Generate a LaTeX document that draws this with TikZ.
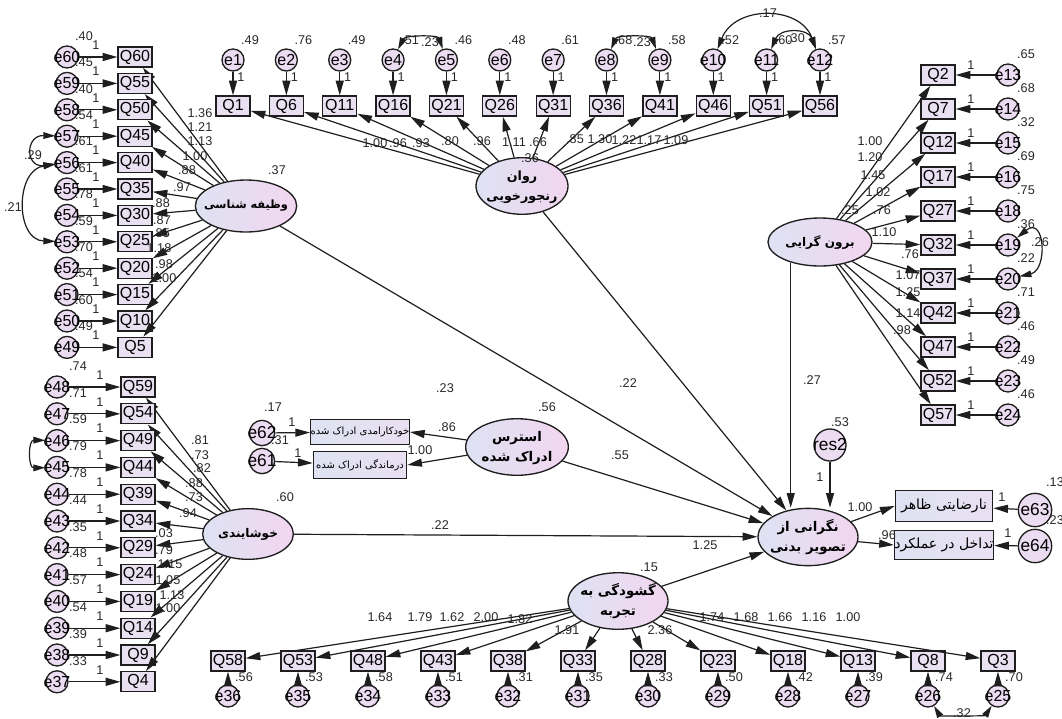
\documentclass[tikz,border=0pt]{standalone}
\usepackage{fontspec}
\setmainfont{Liberation Sans}
\newfontfamily\fa[Script=Arabic,BoldFont={DejaVu Sans Bold}]{DejaVu Sans}
\TeXXeTstate=1
\usetikzlibrary{shapes.geometric,arrows.meta}
\definecolor{boxc}{RGB}{233,224,242}
\definecolor{errc}{RGB}{236,220,242}
\definecolor{ellL}{RGB}{222,226,242}
\definecolor{ellR}{RGB}{242,214,240}
\definecolor{numc}{RGB}{40,40,40}
\definecolor{linec}{RGB}{30,30,30}
\begin{document}
\begin{tikzpicture}[x=0.75pt,y=-0.75pt,
  qb/.style={draw=linec,line width=1pt,fill=boxc,minimum width=25.5pt,minimum height=15pt,inner sep=0pt,font=\fontsize{12}{12}\selectfont},
  er/.style={circle,draw=linec,line width=1pt,fill=errc,minimum size=16.5pt,inner sep=0pt,font=\fontsize{12}{12}\selectfont},
  lat/.style={ellipse,draw=linec,line width=1pt,left color=ellL,right color=ellR,inner sep=0pt,font=\fa\fontsize{9}{15}\selectfont\bfseries},
  vb/.style={draw=linec,line width=1pt,left color=ellL,right color=boxc,inner sep=0pt,font=\fa\fontsize{10.5}{10}\selectfont},
  num/.style={inner sep=0pt,text=numc,font=\fontsize{9.5}{10}\selectfont},
  arr/.style={draw=linec,line width=0.9pt,-{Triangle[length=11pt,width=6pt]}},
  darr/.style={draw=linec,line width=0.9pt,{Triangle[length=9pt,width=5pt]}-{Triangle[length=9pt,width=5pt]}},
]
\useasboundingbox (0,0) rectangle (1062,718);
\fill[white] (0,0) rectangle (1062,718);

% latent variables
\node[lat,minimum width=76pt,minimum height=39pt,font=\fa\fontsize{8.5}{15}\selectfont\bfseries] (C) at (246,206) {\makebox[0pt]{\beginR وظیفه شناسی\endR}};
\node[lat,minimum width=69pt,minimum height=38pt,font=\fa\fontsize{9.5}{15}\selectfont\bfseries] (N) at (522,186) {\makebox[0pt]{\begin{tabular}{@{}c@{}}\beginR روان\endR\\\beginR رنجورخویی\endR\end{tabular}}};
\node[lat,minimum width=78pt,minimum height=36pt] (E) at (820,242) {\makebox[0pt]{\beginR برون گرایی\endR}};
\node[lat,minimum width=68pt,minimum height=38pt] (A) at (248,534) {\makebox[0pt]{\beginR خوشایندی\endR}};
\node[lat,minimum width=77pt,minimum height=39pt,font=\fa\fontsize{10}{15}\selectfont\bfseries] (S) at (517,447) {\makebox[0pt]{\begin{tabular}{@{}c@{}}\beginR استرس\endR\\\beginR ادراک شده\endR\end{tabular}}};
\node[lat,minimum width=75pt,minimum height=43pt,font=\fa\fontsize{10}{15}\selectfont\bfseries] (O) at (808,537) {\makebox[0pt]{\begin{tabular}{@{}c@{}}\beginR نگرانی از\endR\\\beginR تصویر بدنی\endR\end{tabular}}};
\node[lat,minimum width=75pt,minimum height=39pt,font=\fa\fontsize{10}{15}\selectfont\bfseries] (Op) at (618,601) {\makebox[0pt]{\begin{tabular}{@{}c@{}}\beginR گشودگی به\endR\\\beginR تجربه\endR\end{tabular}}};

\node[num] (vC) at (277,170) {.37};
\node[num] (vN) at (530,158) {.36};
\node[num] (vE) at (850,210) {.25};
\node[num] (vA) at (285,497) {.60};
\node[num] (vS) at (547,407) {.56};
\node[num] (vOp) at (649,567) {.15};

% left-top column
\foreach \q/\e/\v/\l/\lx/\ly [count=\i from 0] in {60/60/.40/1.36/200/113,55/59/.45/1.21/200/127,50/58/.40/1.13/200/141,45/57/.54/1.00/195/156,40/56/.61/.88/187/170,35/55/.61/.97/182/187,30/54/.78/.88/161/203,25/53/.59/.87/162/220,20/52/.70/.85/161/233,15/51/.54/1.18/159/248,10/50/.60/.98/164/264,5/49/.49/1.00/164/278}{
  \pgfmathsetmacro\yy{57+26.4*\i}
  \node[qb] (Q\q) at (135,\yy) {Q\q};
  \node[er] (e\e) at (67,\yy) {\makebox[0pt]{e\e}};
  \draw[arr] (e\e) -- (Q\q);
  \draw[arr] (C) -- (Q\q);
  \node[num] (v\e) at (84,{\yy-21}) {\v};
  \node[num] (o\e) at (96,{\yy-12}) {1};
  \node[num] (l\q) at (\lx,\ly) {\l};
}

% left-bottom column
\foreach \q/\e/\v/\l/\lx/\ly [count=\i from 0] in {59/48/.74/.81/200/440,54/47/.71/.73/200/455,49/46/.59/.82/202/468,44/45/.79/.88/194/483,39/44/.78/.73/194/497,34/43/.44/.94/188/513,29/42/.35/.03/164/533,24/41/.48/.79/164/550,19/40/.57/1.15/170/564,14/39/.54/1.05/168/580,9/38/.39/1.13/172/595,4/37/.33/1.00/168/608}{
  \pgfmathsetmacro\yy{387+26.8*\i}
  \node[qb] (Q\q) at (138,\yy) {Q\q};
  \node[er] (e\e) at (57,\yy) {\makebox[0pt]{e\e}};
  \draw[arr] (e\e) -- (Q\q);
  \draw[arr] (A) -- (Q\q);
  \node[num] (v\e) at (78,{\yy-21}) {\v};
  \node[num] (o\e) at (100,{\yy-12}) {1};
  \node[num] (l\q) at (\lx,\ly) {\l};
}

% top row
\foreach \q/\v/\l/\lx/\ly [count=\i from 0] in {1/.49/1.00/375/143,6/.76/.96/398/143,11/.49/.93/421/143,16/.51/.80/450/141,21/.46/.96/482/141,26/.48/1.11/514/142,31/.61/.66/538/142,36/.68/.85/575/139,41/.58/1.30/600/139,46/.52/1.22/624/140,51/.60/1.17/649/140,56/.57/1.09/676/140}{
  \pgfmathsetmacro\xx{233+53.36*\i}
  \pgfmathtruncatemacro\en{\i+1}
  \node[qb] (Q\q) at (\xx,106) {Q\q};
  \node[er] (e\en) at (\xx,60) {\makebox[0pt]{e\en}};
  \draw[arr] (e\en) -- (Q\q);
  \draw[arr] (N) -- (Q\q);
  \node[num] (v\en) at ({\xx+17},40) {\v};
  \node[num] (o\en) at ({\xx+8},77) {1};
  \node[num] (l\q) at (\lx,\ly) {\l};
}

% right column
\foreach \q/\e/\v/\l/\lx/\ly [count=\i from 0] in {2/13/.65/1.00/870/141,7/14/.68/1.20/870/157,12/15/.32/1.45/873/175,17/16/.69/1.02/878/192,27/18/.75/.76/882/210,32/19/.36/1.10/884/232,37/20/.22/.76/910/254,42/21/.71/1.07/908/275,47/22/.46/1.25/908/292,52/23/.49/1.14/908/313,57/24/.46/.98/902/330}{
  \pgfmathsetmacro\yy{75+34*\i}
  \node[qb] (Q\q) at (938,\yy) {Q\q};
  \node[er] (e\e) at (1008,\yy) {\makebox[0pt]{e\e}};
  \draw[arr] (e\e) -- (Q\q);
  \draw[arr] (E) -- (Q\q);
  \node[num] (v\e) at (1026,{\yy-21}) {\v};
  \node[num] (o\e) at (971,{\yy-10}) {1};
  \node[num] (l\q) at (\lx,\ly) {\l};
}

% bottom row
\foreach \q/\e/\v/\l/\lx/\ly [count=\i from 0] in {58/36/.56/1.64/380/617,53/35/.53/1.79/420/617,48/34/.58/1.62/452/617,43/33/.51/2.00/486/617,38/32/.31/1.82/520/619,33/31/.35/1.91/567/630,28/30/.33/2.36/660/630,23/29/.50/1.74/712/617,18/28/.42/1.68/746/617,13/27/.39/1.66/780/617,8/26/.74/1.16/814/617,3/25/.70/1.00/848/617}{
  \pgfmathsetmacro\xx{228+70*\i}
  \node[qb] (Q\q) at (\xx,661) {Q\q};
  \node[er] (e\e) at (\xx,696) {\makebox[0pt]{e\e}};
  \draw[arr] (e\e) -- (Q\q);
  \draw[arr] (Op) -- (Q\q);
  \node[num] (v\e) at ({\xx+16},677) {\v};
  \node[num] (l\q) at (\lx,\ly) {\l};
}

% perceived stress indicators
\node[vb,minimum width=70pt,minimum height=19pt,font=\fa\fontsize{7.5}{8}\selectfont] (P1) at (360,432) {\beginR خودکارامدی ادراک شده\endR};
\node[vb,minimum width=70pt,minimum height=20pt,font=\fa\fontsize{7.5}{8}\selectfont] (P2) at (360,465) {\beginR درماندگی ادراک شده\endR};
\node[er,minimum size=19pt,font=\fontsize{13}{13}\selectfont] (e62) at (262,433) {\makebox[0pt]{e62}};
\node[er,minimum size=19pt,font=\fontsize{13}{13}\selectfont] (e61) at (262,461) {\makebox[0pt]{e61}};
\draw[arr] (e62) -- (P1);
\draw[arr] (e61) -- (P2);
\draw[arr] (S) -- (P1.east);
\draw[arr] (S) -- (P2.east);
\node[num] (v62) at (273,407) {.17};
\node[num] (v61) at (280,440) {.31};
\node[num] (o62) at (292,422) {1};
\node[num] (o61) at (298,453) {1};
\node[num] (lP1) at (447,427) {.86};
\node[num] (lP2) at (420,450) {1.00};

% outcome indicators
\node[vb,minimum width=73pt,minimum height=23pt] (V1) at (944,506) {\beginR نارضایتی ظاهر\endR};
\node[vb,minimum width=73pt,minimum height=22pt] (V2) at (944,545) {\beginR تداخل در عملکرد\endR};
\node[er,minimum size=25pt,font=\fontsize{13}{13}\selectfont] (e63) at (1035,510) {\makebox[0pt]{e63}};
\node[er,minimum size=25pt,font=\fontsize{13}{13}\selectfont] (e64) at (1035,546) {\makebox[0pt]{e64}};
\draw[arr] (e63) -- (V1);
\draw[arr] (e64) -- (V2);
\draw[arr] (O) -- (V1.west);
\draw[arr] (O) -- (V2.west);
\node[num] (v63) at (1055,482) {.13};
\node[num] (v64) at (1055,520) {.23};
\node[num] (o63) at (1002,497) {1};
\node[num] (o64) at (1008,533) {1};
\node[num] (lV1) at (860,507) {1.00};
\node[num] (lV2) at (887,535) {.96};

% residual
\node[er,minimum size=24pt,font=\fontsize{13}{13}\selectfont] (res2) at (830,445) {\makebox[0pt]{res2}};
\draw[arr] (res2) -- (res2 |- O.north);
\node[num] (vres) at (840,422) {.53};
\node[num] (ores) at (820,477) {1};

% structural paths
\draw[arr] (C) -- (O);
\draw[arr] (N) -- (O);
\draw[arr] (E.-145) -- (E.-145 |- O.north);
\draw[arr] (S) -- (O);
\draw[arr] (A) -- (O);
\draw[arr] (Op) -- (O);
\node[num] (pC) at (445,388) {.23};
\node[num] (pN) at (628,383) {.22};
\node[num] (pE) at (812,380) {.27};
\node[num] (pS) at (620,455) {.55};
\node[num] (pA) at (440,525) {.22};
\node[num] (pOp) at (705,545) {1.25};

% correlations
\draw[darr] (e57) .. controls (25,135) and (25,168) .. (e56);
\draw[darr] (e56) .. controls (15,170) and (15,240) .. (e53);
\draw[darr] (e46) .. controls (28,440) and (28,468) .. (e45);
\draw[darr] (e4) .. controls (405,35) and (438,35) .. (e5);
\draw[darr] (e8) .. controls (617,35) and (651,35) .. (e9);
\draw[darr] (e10) .. controls (735,5) and (800,5) .. (e12);
\draw[darr] (e11) .. controls (780,28) and (808,28) .. (e12);
\draw[darr] (e19) .. controls (1045,215) and (1048,270) .. (e20);
\draw[darr] (e26) .. controls (940,716) and (985,716) .. (e25);
\node[num] (c1) at (33,155) {.29};
\node[num] (c2) at (13,207) {.21};
\node[num] (c3) at (430,42) {.23};
\node[num] (c4) at (642,42) {.23};
\node[num] (c5) at (768,13) {.17};
\node[num] (c6) at (796,38) {.30};
\node[num] (c7) at (1040,242) {.26};
\node[num] (c8) at (962,713) {.32};
\end{tikzpicture}
\end{document}
